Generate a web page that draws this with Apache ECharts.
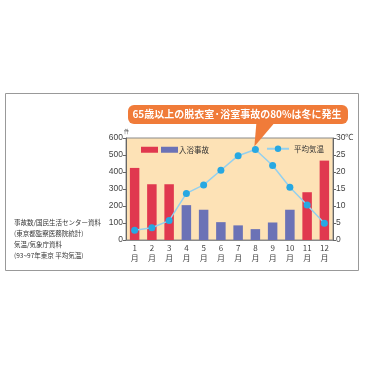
<!DOCTYPE html>
<html><head><meta charset="utf-8">
<script src="https://cdn.jsdelivr.net/npm/echarts@6/dist/echarts.min.js"></script>
<style>html,body{margin:0;padding:0;background:#fff}#c{width:365px;height:365px}</style>
</head><body><div id="c"></div>
<script>
const months = ['1\n月','2\n月','3\n月','4\n月','5\n月','6\n月','7\n月','8\n月','9\n月','10\n月','11\n月','12\n月'];
const accidents = [424, 328, 328, 205, 178, 105, 86, 64, 103, 178, 281, 467];
const winterMask = [1,1,1,0,0,0,0,0,0,0,1,1];
const temperature = [2.9, 3.6, 5.7, 13.7, 16.2, 20.5, 24.8, 26.6, 21.9, 15.5, 10.3, 4.9];
const leftTicks = [0,100,200,300,400,500,600];
const rightTicks = [0,5,10,15,20,25,30];
const title = '65歳以上の脱衣室·浴室事故の80%は冬に発生';
const notes = ['事故数/国民生活センター資料','(東京都監察医務院統計)','気温/気象庁資料','(93~97年東京 平均気温)'];

const FONT = '"Noto Sans CJK JP", "Noto Sans", sans-serif';
const RED = '#e0384f', BLUE = '#6b72b6';
const winterData = accidents.map((v,i)=> winterMask[i] ? v : null);
const otherData = accidents.map((v,i)=> winterMask[i] ? null : v);

const chart = echarts.init(document.getElementById('c'), null, {renderer:'canvas'});
const option = {
  animation:false,
  textStyle:{fontFamily:FONT},
  grid:{left:126, right:32, top:138, bottom:125, show:true, backgroundColor:'#fde2b6', borderColor:'#8a8a8a', borderWidth:1},
  legend:[
    {left:136, top:141, itemWidth:17, itemHeight:6, itemGap:3, icon:'rect', selectedMode:false,
     data:['冬季','入浴事故'],
     formatter:function(n){return n==='入浴事故'? n : '';},
     textStyle:{fontSize:7.5, color:'#333', fontFamily:FONT, padding:[0,0,0,-4]}},
    {right:36, top:140, itemWidth:22, itemHeight:8, selectedMode:false,
     data:['平均気温'], textStyle:{fontSize:7.5, color:'#333', fontFamily:FONT}}
  ],
  xAxis:{type:'category', data:months,
    axisLine:{show:true, lineStyle:{color:'#8a8a8a'}}, axisTick:{show:false},
    axisLabel:{fontSize:8, lineHeight:10, color:'#444', margin:3, interval:0, fontFamily:FONT}},
  yAxis:[
    {type:'value', min:0, max:600, interval:100, name:'件', nameGap:3,
     nameTextStyle:{fontSize:5, color:'#444', align:'right', padding:[0,-3,0,0]},
     axisLine:{show:true, lineStyle:{color:'#666'}}, axisTick:{show:true, length:3, lineStyle:{color:'#666'}},
     splitLine:{show:false},
     axisLabel:{fontSize:8.5, color:'#444', margin:3, fontFamily:'Liberation Sans, Arial, sans-serif'}},
    {type:'value', min:0, max:30, interval:5, position:'right',
     axisLine:{show:true, lineStyle:{color:'#666'}}, axisTick:{show:true, length:3, lineStyle:{color:'#666'}},
     splitLine:{show:false},
     axisLabel:{fontSize:8.5, color:'#444', margin:3, fontFamily:'Liberation Sans, Arial, sans-serif',
       formatter:function(v){return v===30 ? '30℃' : String(v);}}}
  ],
  series:[
    {name:'冬季', type:'bar', data:winterData, stack:'a', barWidth:9.5, itemStyle:{color:RED}},
    {name:'入浴事故', type:'bar', data:otherData, stack:'a', barWidth:9.5, itemStyle:{color:BLUE}},
    {name:'平均気温', type:'line', yAxisIndex:1, data:temperature, symbol:'circle', symbolSize:7,
     lineStyle:{color:'#93d0ef', width:1.5}, itemStyle:{color:'#27a8e2'}, z:5}
  ]
};
chart.setOption(option);

const tip = chart.convertToPixel({xAxisIndex:0, yAxisIndex:1}, [7, temperature[7]]);
const graphics = [
  {type:'rect', shape:{x:5.5, y:93.5, width:353, height:177}, style:{fill:'none', stroke:'#999', lineWidth:1}, silent:true, z:-1},
  {type:'rect', shape:{x:128, y:105, width:220, height:19, r:6}, style:{fill:'#f07b39'}, z:10},
  {type:'polygon', shape:{points:[[tip[0]+1,123],[tip[0]+19,123],[tip[0]-1,tip[1]-3]]}, style:{fill:'#f07b39'}, z:10},
  {type:'text', x:237, y:114.5, style:{text:title, fill:'#fff', font:'bold 10px '+FONT, align:'center', verticalAlign:'middle'}, z:11}
];
notes.forEach((t,i)=>{
  graphics.push({type:'text', x:14, y:223+i*11, style:{text:t, fill:'#333', font:'6.5px '+FONT, verticalAlign:'middle'}});
});
chart.setOption({graphic:graphics});
</script></body></html>
